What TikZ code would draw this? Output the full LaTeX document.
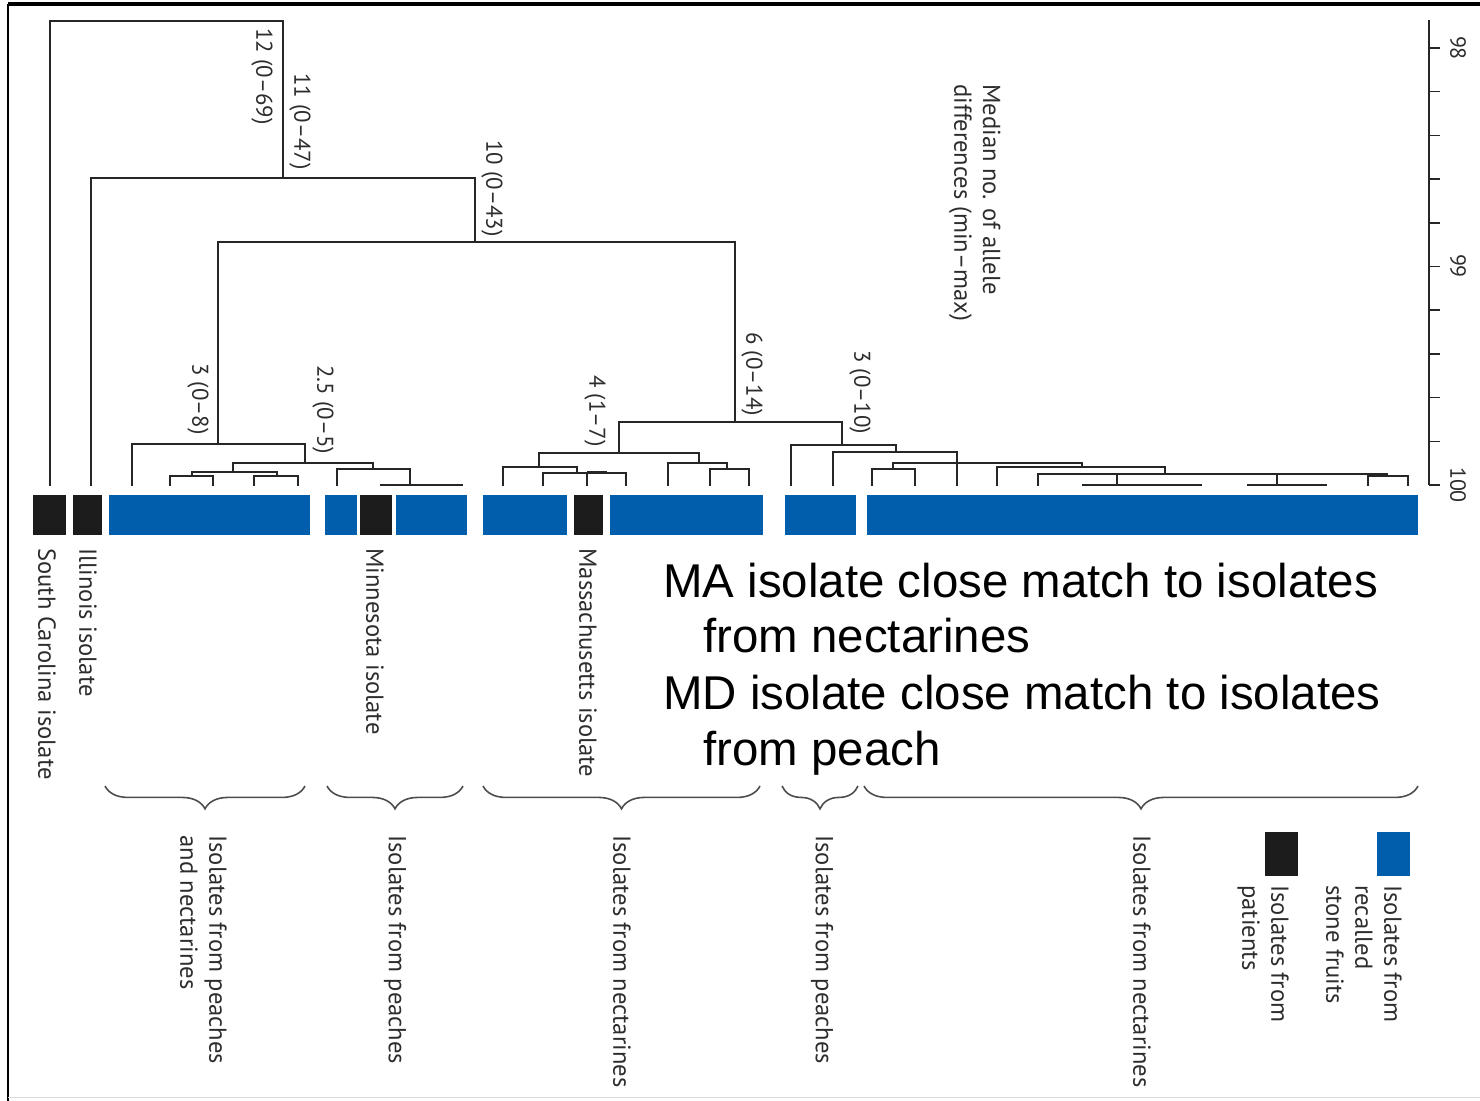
\documentclass[tikz,border=0pt]{standalone}
\usepackage{fontspec}
\setmainfont{PT Sans}
\newfontfamily\annfont{Liberation Sans}
\usetikzlibrary{decorations.pathreplacing}
\definecolor{isoblue}{RGB}{0,94,172}
\definecolor{isoblack}{RGB}{28,28,28}
\definecolor{txtgray}{RGB}{45,45,45}

\begin{document}
\begin{tikzpicture}[
  x=0.02cm, y=-0.02cm,
  branch/.style={line width=0.8pt, black!85},
  vtext/.style={rotate=-90, anchor=west, inner sep=0pt, text=txtgray, font=\fontsize{14}{16}\selectfont},
  dval/.style={vtext, font=\fontsize{13}{15}\selectfont},
  vblock/.style={rotate=-90, anchor=north west, inner sep=0pt, align=left, text=txtgray, font=\fontsize{14}{16.5}\selectfont},
  grpbrace/.style={decorate, decoration={brace, mirror, amplitude=13pt}, line width=0.9pt, black!70},
  note/.style={anchor=base west, inner sep=0pt, font=\annfont\fontsize{27}{30}\selectfont}
]
\useasboundingbox (0,0) rectangle (1480,1101);
\draw[line width=2pt] (8,4) -- (1480,4);
\draw[line width=1pt] (8,4) -- (8,1101);
\draw[black!15] (8,1097) -- (1480,1097);

% upper branches
\draw[branch] (50,486) |- (283,21) -- (283,178);
\draw[branch] (91,486) |- (475,178) -- (475,242);
\draw[branch] (218,444) |- (735,242) -- (735,422);

% left cluster
\draw[branch] (132,486) |- (305,444) -- (305,463);
\draw[branch] (233,472) |- (373,463) -- (373,469);
\draw[branch] (192,476) |- (277,472) -- (277,476);
\draw[branch] (170,486) |- (213,476) -- (213,486);
\draw[branch] (254,486) |- (298,476) -- (298,486);
\draw[branch] (337,486) |- (410,469) -- (410,485);
\draw[branch] (380,485) -- (463,485);

% middle cluster
\draw[branch] (619,453) |- (842,422) -- (842,445);
\draw[branch] (539,467) |- (699,453) -- (699,463);
\draw[branch] (503,486) |- (577,467) -- (577,473);
\draw[branch] (543,486) |- (626,473) -- (626,486);
\draw[branch] (587,473) -- (587,486);
\draw[branch, line width=1.6pt] (587,472.5) -- (607,472.5);
\draw[branch] (668,486) |- (727,463) -- (727,469);
\draw[branch] (710,486) |- (749,469) -- (749,486);

% right cluster
\draw[branch] (791,486) |- (896,445) -- (896,452);
\draw[branch] (833,486) |- (957,452) -- (957,486);
\draw[branch] (893,469) |- (1082,463) -- (1082,467);
\draw[branch] (872,486) |- (915,469) -- (915,486);
\draw[branch] (997,486) |- (1165,467) -- (1165,474);
\draw[branch] (1038,486) |- (1388,474);
\draw[branch] (1117,474) -- (1117,485);
\draw[branch] (1082,485) -- (1202,485);
\draw[branch] (1277,474) -- (1277,485);
\draw[branch] (1247,485) -- (1327,485);
\draw[branch] (1368,486) -- (1368,474);
\draw[branch] (1368,476) -| (1408,486);

% isolate bars
\foreach \a/\b in {33/66, 73/102, 360/392, 574/603}
  \fill[isoblack] (\a,495) rectangle (\b,535);
\foreach \a/\b in {109/310, 325/357, 396/467, 483/567, 610/763, 785/856, 867/1418}
  \fill[isoblue] (\a,495) rectangle (\b,535);

% scale
\draw[branch] (1429,20) -- (1429,485);
\foreach \t in {0,...,10}
  \draw[branch] (1429,{48+43.7*\t}) -- (1440,{48+43.7*\t});
\node[vtext, anchor=center, font=\fontsize{12.5}{14}\selectfont] (s98) at (1458,48) {98};
\node[vtext, anchor=center, font=\fontsize{12.5}{14}\selectfont] (s99) at (1458,266) {99};
\node[vtext, anchor=center, font=\fontsize{12.5}{14}\selectfont] (s100) at (1458,485) {100};
\node[vblock] (median) at (1001,84) {Median no. of allele\\differences (min--max)};

% branch values
\node[dval] (d12) at (262,28) {12 (0--69)};
\node[dval] (d11) at (300,73) {11 (0--47)};
\node[dval] (d10) at (492,140) {10 (0--43)};
\node[dval] (d3a) at (198,363) {3 (0--8)};
\node[dval] (d25) at (323,365) {2.5 (0--5)};
\node[dval] (d4) at (595,375) {4 (1--7)};
\node[dval] (d6) at (752,332) {6 (0--14)};
\node[dval] (d3b) at (860,350) {3 (0--10)};

% patient isolates
\node[vtext] (sc) at (47,548) {South Carolina isolate};
\node[vtext] (il) at (88,548) {Illinois isolate};
\node[vtext] (mn) at (375,548) {Minnesota isolate};
\node[vtext] (ma) at (588,548) {Massachusetts isolate};

% groups
\draw[grpbrace] (105,786) -- (305,786);
\draw[grpbrace] (327,786) -- (463,786);
\draw[grpbrace] (483,786) -- (760,786);
\draw[grpbrace] (782,786) -- (858,786);
\draw[grpbrace] (864,786) -- (1418,786);
\node[vblock] (g1) at (227,835) {Isolates from peaches\\and nectarines};
\node[vtext] (g2) at (395,835) {Isolates from peaches};
\node[vtext] (g3) at (622,835) {Isolates from nectarines};
\node[vtext] (g4) at (822,835) {Isolates from peaches};
\node[vtext] (g5) at (1142,835) {Isolates from nectarines};

% legend
\fill[isoblue] (1377,832) rectangle (1410,876);
\fill[isoblack] (1265,832) rectangle (1298,876);
\node[vblock] (keyfruit) at (1402,885) {Isolates from\\recalled\\stone fruits};
\node[vblock] (keypatient) at (1289,885) {Isolates from\\patients};

% notes
\node[note] (ma1) at (663,597) {MA isolate close match to isolates};
\node[note] (ma2) at (703,652) {from nectarines};
\node[note] (md1) at (663,709) {MD isolate close match to isolates};
\node[note] (md2) at (703,765) {from peach};
\end{tikzpicture}
\end{document}
